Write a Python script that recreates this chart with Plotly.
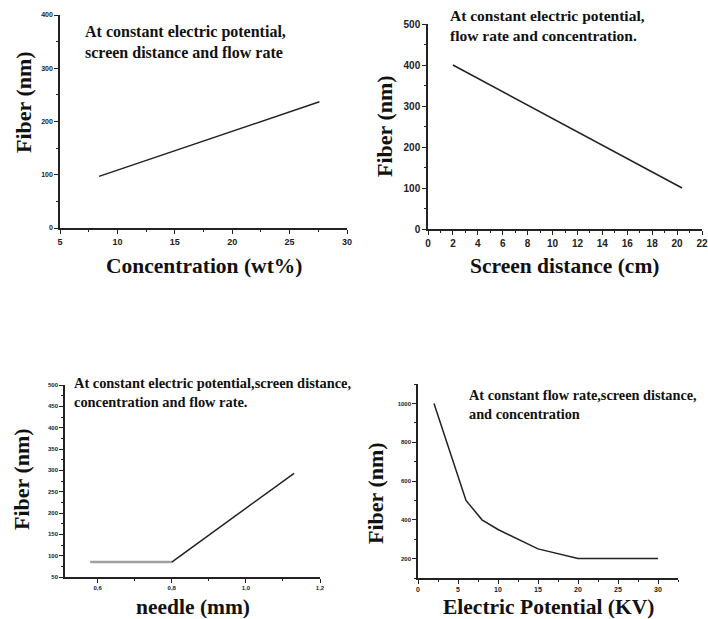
import plotly.graph_objects as go

W, H = 708, 619

# Panel 1: concentration
conc_x = [8.4, 27.6]
conc_y = [97, 237]
# Panel 2: screen distance
dist_x = [2, 20.4]
dist_y = [400, 100]
# Panel 3: needle
needle_flat_x = [0.58, 0.8]
needle_flat_y = [85, 85]
needle_rise_x = [0.8, 1.13]
needle_rise_y = [85, 293]
# Panel 4: electric potential
pot_x = [2, 6, 8, 10, 15, 20, 30]
pot_y = [1000, 500, 400, 350, 250, 200, 200]

needle_tickvals = [0.6, 0.8, 1.0, 1.2]
needle_ticktext = ["0,6", "0,8", "1,0", "1,2"]

notes = [
    "At constant electric potential,<br>screen distance and flow rate",
    "At constant electric potential,<br>flow rate and concentration.",
    "At constant electric potential,screen distance,<br>concentration and flow rate.",
    "At constant flow rate,screen distance,<br>and concentration",
]
xtitles = ["Concentration (wt%)", "Screen distance (cm)", "needle (mm)", "Electric Potential (KV)"]
ytitle = "Fiber (nm)"

def dx(a, b):
    return [a / W, b / W]

def dy(top, bot):
    return [1 - bot / H, 1 - top / H]

fig = go.Figure()
line = dict(color="#222222", width=1.5)
fig.add_trace(go.Scatter(x=conc_x, y=conc_y, mode="lines", line=line, xaxis="x", yaxis="y"))
fig.add_trace(go.Scatter(x=dist_x, y=dist_y, mode="lines", line=line, xaxis="x2", yaxis="y2"))
fig.add_trace(go.Scatter(x=needle_flat_x, y=needle_flat_y, mode="lines",
                         line=dict(color="#a0a0a0", width=2.5), xaxis="x3", yaxis="y3"))
fig.add_trace(go.Scatter(x=needle_rise_x, y=needle_rise_y, mode="lines", line=line, xaxis="x3", yaxis="y3"))
fig.add_trace(go.Scatter(x=pot_x, y=pot_y, mode="lines", line=line, xaxis="x4", yaxis="y4"))

def ax(domain, rng, dtick, minor, anchor, size=9, **kw):
    d = dict(domain=domain, range=rng, dtick=dtick, tick0=0, anchor=anchor, automargin=False,
             showgrid=False, zeroline=False, showline=True, linecolor="#222", linewidth=1.5,
             ticks="outside", ticklen=4, tickwidth=1.2, tickcolor="#222",
             tickfont=dict(family="Liberation Sans", size=size, color="#222", weight="bold"),
             minor=dict(dtick=minor, ticks="outside", ticklen=2, tickcolor="#222", tickwidth=1),
             fixedrange=True)
    d.update(kw)
    return d

fig.update_layout(
    width=W, height=H, margin=dict(l=0, r=0, t=0, b=0),
    paper_bgcolor="white", plot_bgcolor="white", showlegend=False,
    xaxis=ax(dx(60, 347), [5, 30], 5, 2.5, "y", size=9),
    yaxis=ax(dy(15, 228), [0, 400], 100, 50, "x", size=7),
    xaxis2=ax(dx(428, 702), [0, 22], 2, 1, "y2", size=10),
    yaxis2=ax(dy(24, 229), [0, 500], 100, 50, "x2", size=10),
    xaxis3=ax(dx(65, 320), [0.512, 1.2], None, 0.1, "y3", size=6,
              tickvals=needle_tickvals, ticktext=needle_ticktext),
    yaxis3=ax(dy(385, 577), [50, 500], 50, 25, "x3", size=6),
    xaxis4=ax(dx(418, 678), [0, 32.5], 5, 2.5, "y4", size=7),
    yaxis4=ax(dy(384, 578), [100, 1100], 200, 100, "x4", size=6),
)

note_pos = [(83, 21, 16), (448, 5, 15.5), (72, 373, 14.4), (467, 385, 14.3)]
for (x, y, s), t in zip(note_pos, notes):
    fig.add_annotation(x=x / W, y=1 - y / H, xref="paper", yref="paper", xanchor="left", yanchor="top",
                       text=t, showarrow=False, align="left",
                       font=dict(family="Liberation Serif", size=s, color="#111", weight="bold"))

xt_pos = [(204, 266), (564, 266), (193, 607), (548, 607)]
for (x, y), t in zip(xt_pos, xtitles):
    fig.add_annotation(x=x / W, y=1 - y / H, xref="paper", yref="paper", xanchor="center", yanchor="middle",
                       text=t, showarrow=False,
                       font=dict(family="Liberation Serif", size=21.5, color="#111", weight="bold"))

yt_pos = [(24, 102), (384, 126), (21, 479), (376, 493)]
for (x, y) in yt_pos:
    fig.add_annotation(x=x / W, y=1 - y / H, xref="paper", yref="paper", xanchor="center", yanchor="middle",
                       text=ytitle, showarrow=False, textangle=-90,
                       font=dict(family="Liberation Serif", size=22, color="#111", weight="bold"))

fig.write_html("out.html", config={"displayModeBar": False},
               post_script="document.body.style.margin='0';document.body.style.overflow='hidden';")
